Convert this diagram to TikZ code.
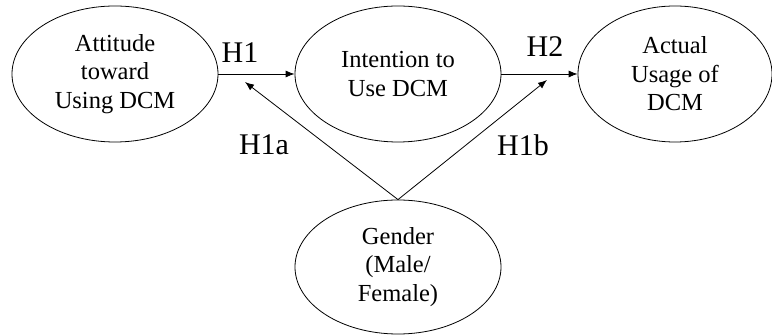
\documentclass[tikz,border=0pt]{standalone}
\usepackage{fontspec}
\setmainfont{Liberation Serif}
\usetikzlibrary{shapes.geometric}
\usetikzlibrary{arrows.meta}
\usetikzlibrary{positioning}

\tikzset{
	construct/.style={ellipse, draw, line width=0.8pt, minimum width=206pt, minimum height=136pt, inner sep=0pt, align=center, font=\fontsize{24.5}{28.5}\selectfont},
	path/.style={line width=0.8pt, -{Latex[length=9pt,width=7pt]}},
	hyp/.style={font=\fontsize{30}{30}\selectfont}
}

\begin{document}
\begin{tikzpicture}[x=1pt, y=-1pt]
				\useasboundingbox (0,0) rectangle (772,336);
				\node[construct] (A) at (115,74) {Attitude\\toward\\Using DCM};
				\node[construct] (B) at (398,74) {Intention to\\Use DCM};
				\node[construct, minimum width=194pt] (C) at (675,74) {Actual\\Usage of\\DCM};
				\node[construct, minimum height=134pt] (D) at (398,267) {Gender\\(Male/\\Female)};
				
				\coordinate (M1) at (245,82);
				\coordinate (M2) at (547,80);
				
				\node[hyp] (L1) at (240,53) {H1};
				\node[hyp] (L2) at (545,47) {H2};
				\node[hyp] (L1a) at (264,145) {H1a};
				\node[hyp] (L1b) at (523,145) {H1b};
				
				\draw[path]  (A) -- (B);
				\draw[path]  (B) -- (C);
				\draw[path]  (D.north) -- (M1);
				\draw[path]  (D.north) -- (M2);
			\end{tikzpicture}
\end{document}
